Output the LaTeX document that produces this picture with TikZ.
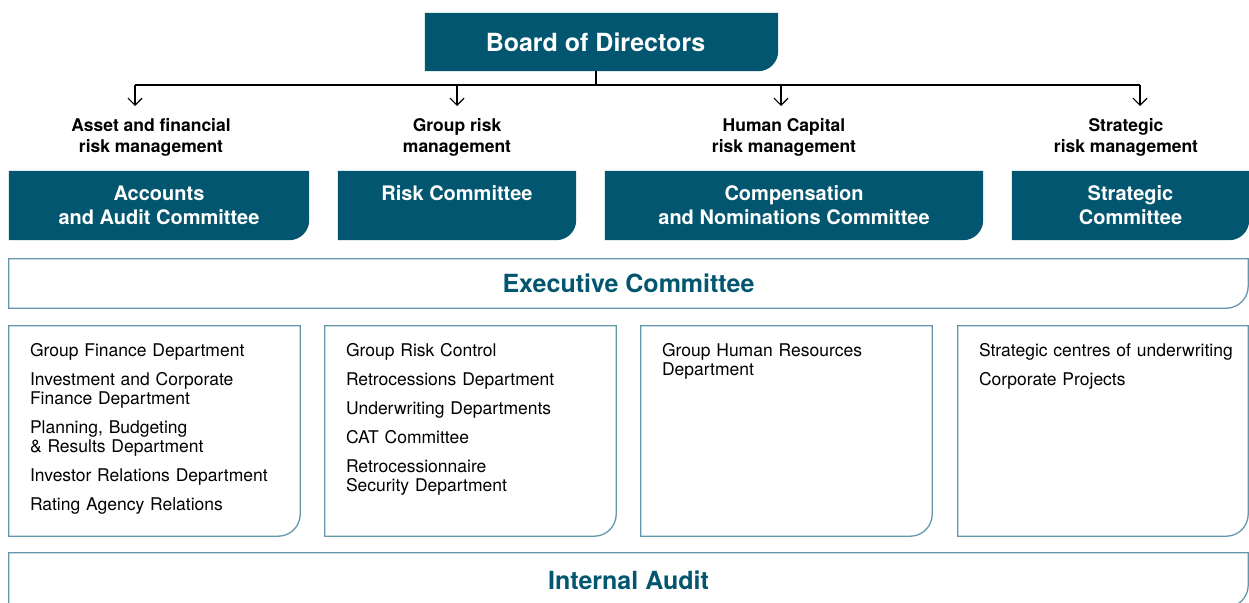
\documentclass[tikz,border=0pt]{standalone}
\usepackage{fontspec}
\setmainfont{TeX Gyre Heros}
\usepackage{tikz}
\usetikzlibrary{positioning,arrows.meta,backgrounds}

\definecolor{boardblue}{HTML}{03566F}
\definecolor{frameblue}{HTML}{6497AC}

\tikzset{
  darkbox/.style={inner sep=0pt, text=white, align=center, font=\bfseries\fontsize{20}{24}\selectfont},
  openbox/.style={inner sep=0pt, text=boardblue, font=\bfseries\fontsize{25}{30}\selectfont},
  riskarea/.style={inner sep=0pt, align=center, font=\bfseries\fontsize{17.5}{21}\selectfont},
  deptlist/.style={inner sep=0pt, anchor=north west, align=left, text width=265pt, font=\fontsize{17.5}{19}\selectfont},
  feed/.style={line width=1.2pt, -{Straight Barb[length=7pt,width=14pt]}},
}

\begin{document}
\begin{tikzpicture}[x=1pt,y=-1pt]
\useasboundingbox (0,0) rectangle (1249,602);

% board and committees
\node[darkbox, minimum width=353pt, minimum height=58pt, font=\bfseries\fontsize{25}{30}\selectfont] (board) at (601.5,42) {Board of Directors\hspace*{12pt}};
\node[darkbox, minimum width=300pt, minimum height=69pt] (acc) at (159,205.5) {Accounts\\and Audit Committee};
\node[darkbox, minimum width=238pt, minimum height=69pt] (riskc) at (457,205.5) {Risk Committee\\\mbox{}};
\node[darkbox, minimum width=378pt, minimum height=69pt] (comp) at (794,205.5) {Compensation\\and Nominations Committee};
\node[darkbox, minimum width=237pt, minimum height=69pt] (strat) at (1130.5,205.5) {Strategic\\Committee};

\node[riskarea] (lasset) at (151,137.5) {Asset and financial\\risk management};
\node[riskarea] (lgroup) at (457,137.5) {Group risk\\management};
\node[riskarea] (lhuman) at (784,137.5) {Human Capital\\risk management};
\node[riskarea] (lstrat) at (1126,137.5) {Strategic\\risk management};

% executive level
\node[openbox, minimum width=1239pt, minimum height=49pt] (exec) at (628.5,283.5) {Executive Committee};
\node[minimum width=291pt, minimum height=210pt] (fin) at (154.5,431) {};
\node[minimum width=291pt, minimum height=210pt] (riskd) at (470.5,431) {};
\node[minimum width=291pt, minimum height=210pt] (hrd) at (786.5,431) {};
\node[minimum width=290pt, minimum height=210pt] (strd) at (1103,431) {};
\node[openbox, minimum width=1239pt, minimum height=54pt] (iaudit) at (628.5,580) {Internal Audit};

\node[deptlist] (finlist) at ([shift={(21pt,-17pt)}]fin.north west) {Group Finance Department\\[10pt]
  Investment and Corporate\\Finance Department\\[10pt]
  Planning, Budgeting\\\& Results Department\\[10pt]
  Investor Relations Department\\[10pt]
  Rating Agency Relations};
\node[deptlist] (risklist) at ([shift={(21pt,-17pt)}]riskd.north west) {Group Risk Control\\[10pt]
  Retrocessions Department\\[10pt]
  Underwriting Departments\\[10pt]
  CAT Committee\\[10pt]
  Retrocessionnaire\\Security Department};
\node[deptlist] (hrlist) at ([shift={(21pt,-17pt)}]hrd.north west) {Group Human Resources\\Department};
\node[deptlist] (stratlist) at ([shift={(21pt,-17pt)}]strd.north west) {Strategic centres of underwriting\\[10pt]
  Corporate Projects};

\begin{scope}[on background layer]
\foreach \b in {board,acc,riskc,comp,strat}
  \fill[boardblue] (\b.south west) -- (\b.north west) -- (\b.north east) -- ([yshift=20pt]\b.south east) arc[start angle=0,end angle=-90,radius=20pt] -- cycle;
\foreach \b in {exec,fin,riskd,hrd,strd,iaudit}
  \draw[frameblue, line width=1.3pt] (\b.south west) -- (\b.north west) -- (\b.north east) -- ([yshift=22pt]\b.south east) arc[start angle=0,end angle=-90,radius=22pt] -- cycle;
\end{scope}

% connectors
\coordinate (hub) at (596,85);
\coordinate (j1) at (135,85);
\coordinate (j2) at (457,85);
\coordinate (j3) at (781,85);
\coordinate (j4) at (1140,85);
\draw[line width=1.2pt] (board.south -| hub) -- (hub);
\draw[line width=1.2pt] (j1) -- (j4);
\foreach \j in {j1,j2,j3,j4}
  \draw[feed] (\j) -- ([yshift=-21pt]\j);

\end{tikzpicture}
\end{document}
